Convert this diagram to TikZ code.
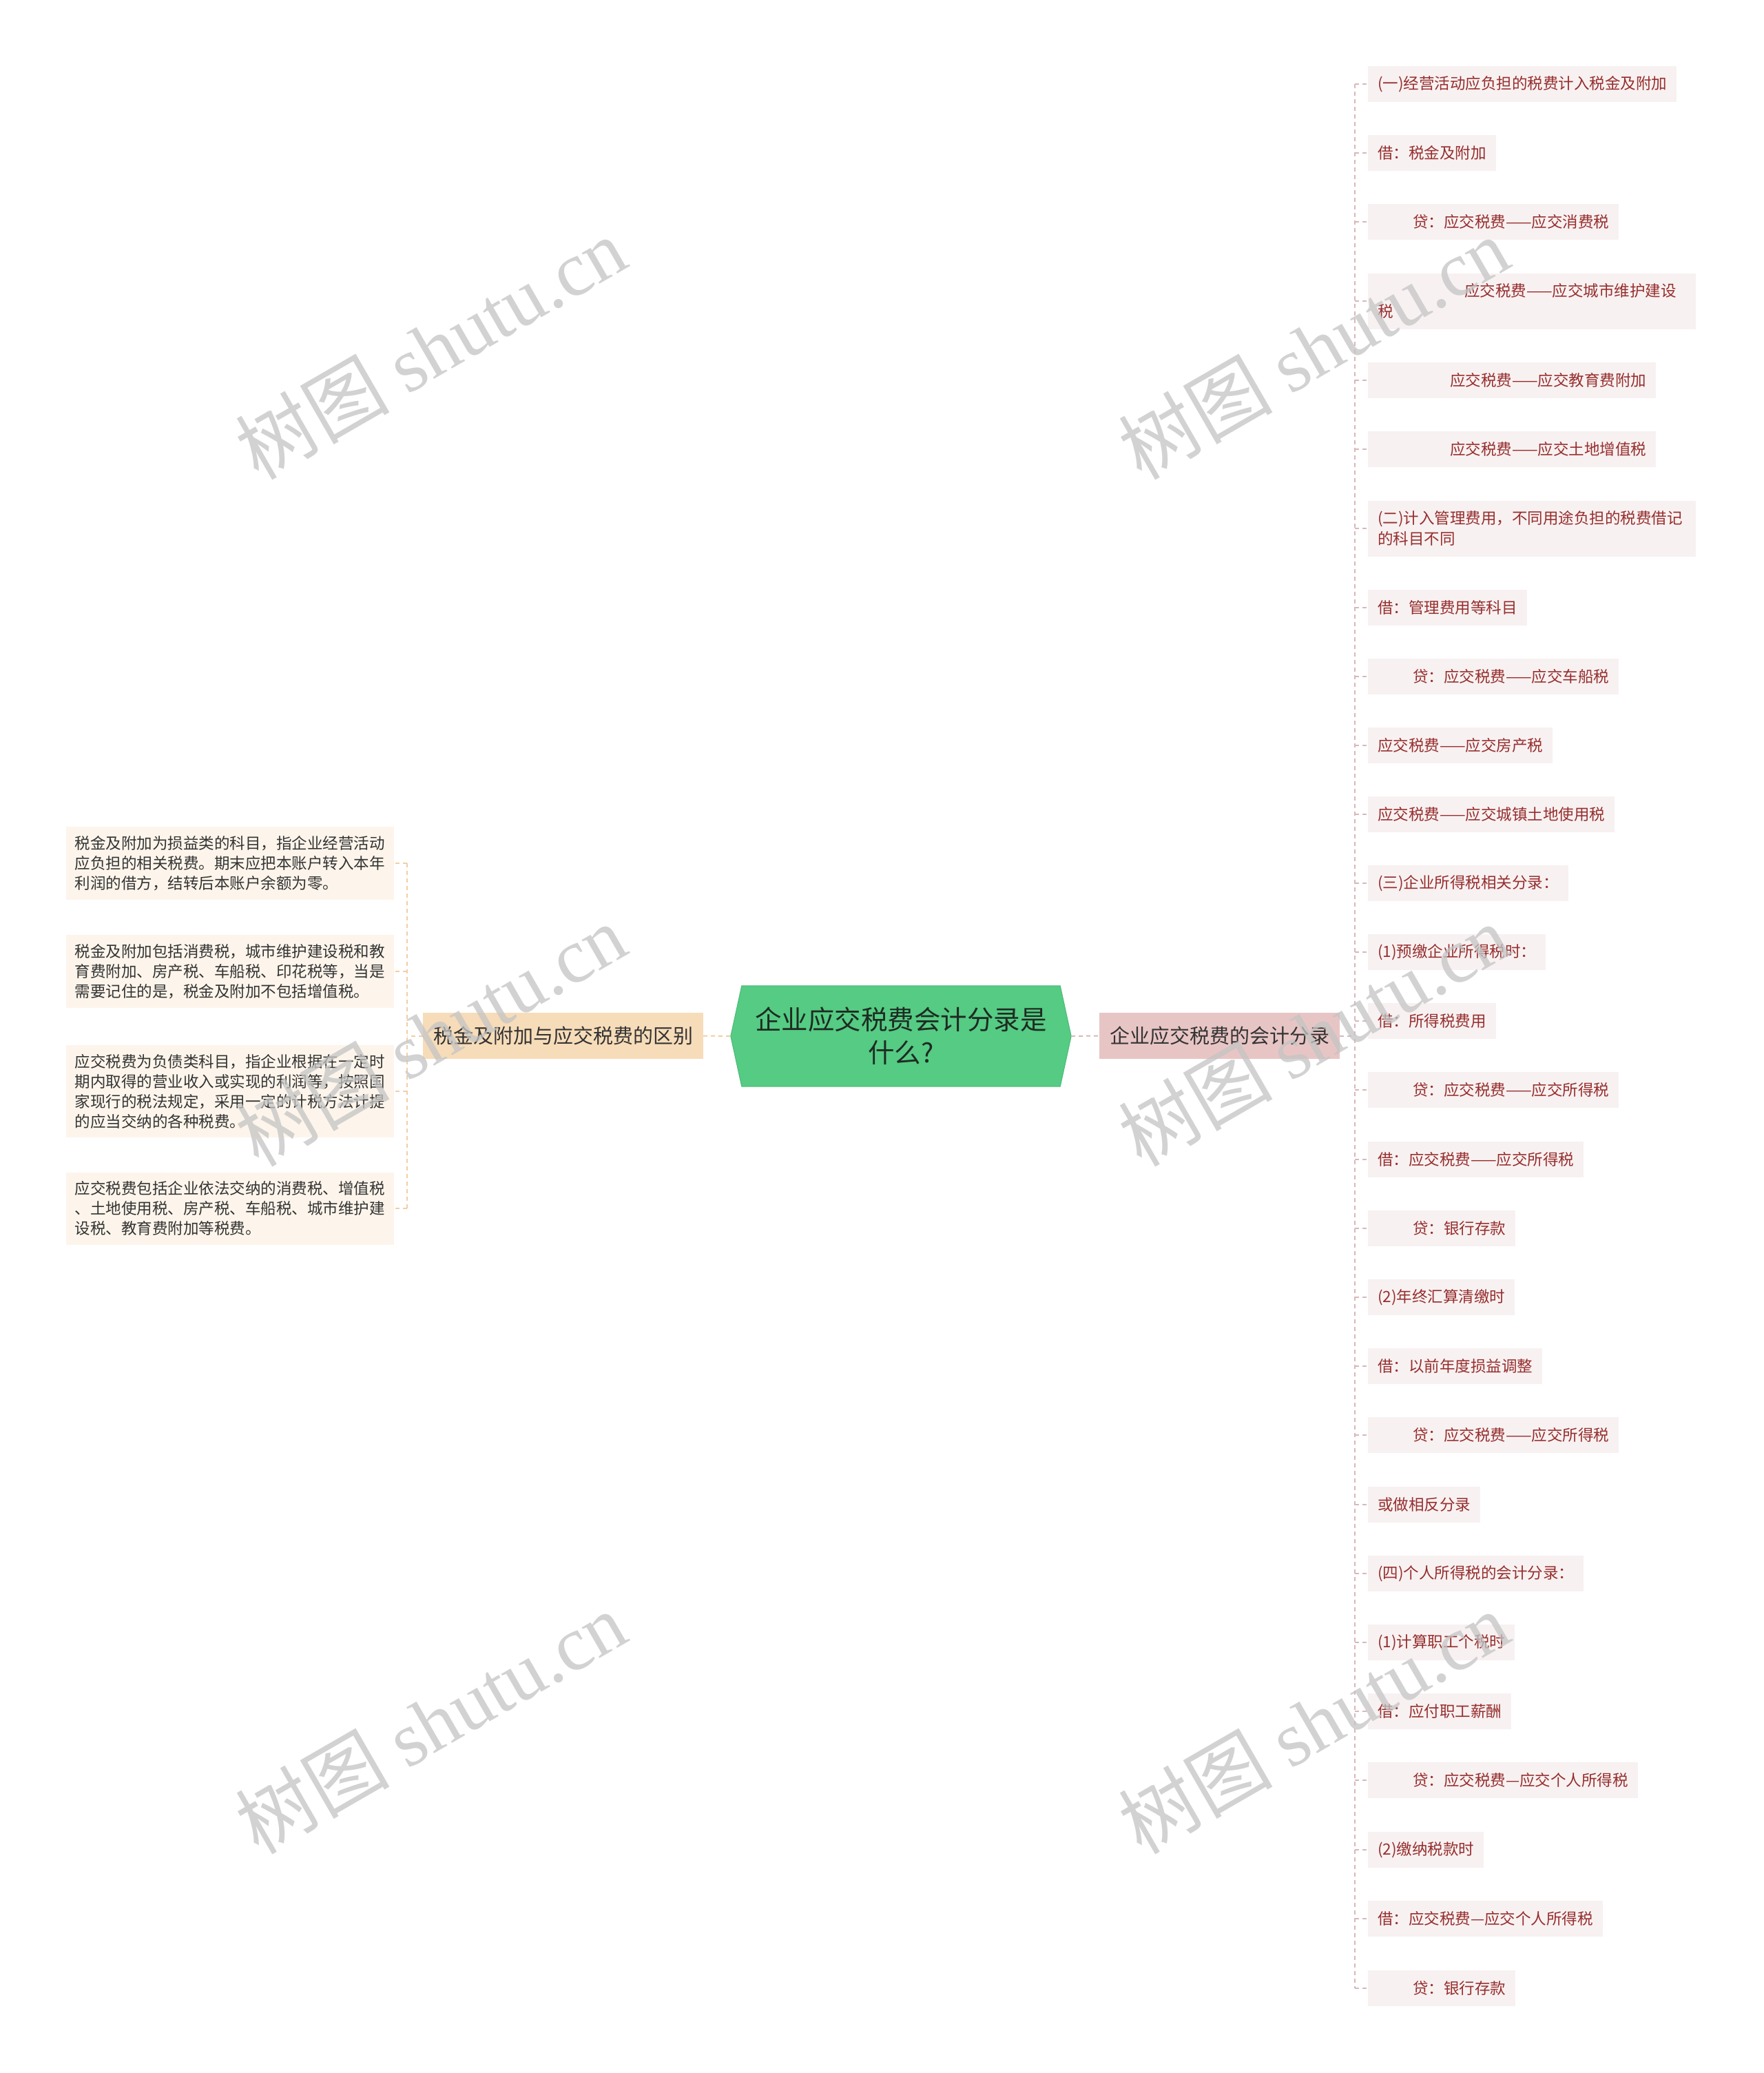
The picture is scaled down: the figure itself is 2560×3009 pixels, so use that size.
\documentclass[tikz,border=0pt]{standalone}
\usepackage{fontspec}
\setmainfont{Noto Sans CJK SC}
\newfontfamily\wmlatin{Liberation Serif}
\usetikzlibrary{backgrounds}
\definecolor{rtext}{HTML}{962E2E}
\definecolor{rfill}{HTML}{F8F1F1}
\definecolor{rline}{HTML}{D8B8B8}
\definecolor{lfill}{HTML}{FDF5EB}
\definecolor{lline}{HTML}{F0CFA6}
\definecolor{ltext}{HTML}{333333}
\definecolor{cgreen}{HTML}{55CB83}
\definecolor{cgreenedge}{HTML}{4DBB78}
\definecolor{ctext}{HTML}{1E2B22}
\definecolor{rmain}{HTML}{E8C5C5}
\definecolor{lmain}{HTML}{F7DCB9}
\definecolor{wm}{HTML}{C4C4C4}
\tikzset{
  rleaf/.style={anchor=west, fill=rfill, text=rtext, font=\fontsize{22.5}{30}\selectfont,
    inner xsep=14pt, inner ysep=0pt, minimum height=52pt, align=left},
  rleaftwo/.style={rleaf, text width=448pt, minimum height=81pt},
  lleaf/.style={anchor=east, fill=lfill, text=ltext, font=\fontsize{22.5}{29}\selectfont,
    inner xsep=13pt, inner ysep=13pt, text width=450pt, align=left},
  mainbox/.style={font=\fontsize{29}{34}\selectfont, text=ltext, inner xsep=15pt, inner ysep=0pt, minimum height=67pt},
  rconn/.style={draw=rline, line width=2pt, dash pattern=on 6pt off 5pt},
  lconn/.style={draw=lline, line width=2pt, dash pattern=on 6pt off 5pt},
  wmark/.style={text=wm, opacity=0.75, rotate=30, font=\fontsize{112}{112}\selectfont}
}
\begin{document}
\begin{tikzpicture}[x=1pt,y=-1pt]
\useasboundingbox (0,0) rectangle (2560,3009);

% center
\node[minimum width=494pt, minimum height=146pt, align=center, text=ctext,
  font=\fontsize{38.5}{48}\selectfont, inner sep=0pt] (c) at (1308,1504) {企业应交税费会计分录是\\什么?};
\begin{scope}[on background layer]
\fill[white] (0,0) rectangle (2560,3009);
\filldraw[fill=cgreen, draw=cgreenedge, line width=1pt] (c.west) -- ([xshift=16pt]c.north west) -- ([xshift=-16pt]c.north east) -- (c.east)
  -- ([xshift=-16pt]c.south east) -- ([xshift=16pt]c.south west) -- cycle;
\end{scope}

% main branches
\node[mainbox, fill=rmain] (rm) at (1770.5,1503.5) {企业应交税费的会计分录};
\node[mainbox, fill=lmain] (lm) at (817.5,1503.5) {税金及附加与应交税费的区别};

% right leaves
\node[rleaf] (r1) at (1986,122) {(一)经营活动应负担的税费计入税金及附加};
\node[rleaf] (r2) at (1986,222) {借：税金及附加};
\node[rleaf] (r3) at (1986,322) {\hspace*{51pt}贷：应交税费——应交消费税};
\node[rleaftwo] (r4) at (1986,437) {\hspace*{126pt}应交税费——应交城市维护建设\\税};
\node[rleaf] (r5) at (1986,552) {\hspace*{105pt}应交税费——应交教育费附加};
\node[rleaf] (r6) at (1986,652) {\hspace*{105pt}应交税费——应交土地增值税};
\node[rleaftwo] (r7) at (1986,767) {(二)计入管理费用，不同用途负担的税费借记\\的科目不同};
\node[rleaf] (r8) at (1986,882) {借：管理费用等科目};
\node[rleaf] (r9) at (1986,982) {\hspace*{51pt}贷：应交税费——应交车船税};
\node[rleaf] (r10) at (1986,1082) {应交税费——应交房产税};
\node[rleaf] (r11) at (1986,1182) {应交税费——应交城镇土地使用税};
\node[rleaf] (r12) at (1986,1282) {(三)企业所得税相关分录：};
\node[rleaf] (r13) at (1986,1382) {(1)预缴企业所得税时：};
\node[rleaf] (r14) at (1986,1482) {借：所得税费用};
\node[rleaf] (r15) at (1986,1582) {\hspace*{51pt}贷：应交税费——应交所得税};
\node[rleaf] (r16) at (1986,1683) {借：应交税费——应交所得税};
\node[rleaf] (r17) at (1986,1783) {\hspace*{51pt}贷：银行存款};
\node[rleaf] (r18) at (1986,1883) {(2)年终汇算清缴时};
\node[rleaf] (r19) at (1986,1983) {借：以前年度损益调整};
\node[rleaf] (r20) at (1986,2083) {\hspace*{51pt}贷：应交税费——应交所得税};
\node[rleaf] (r21) at (1986,2184) {或做相反分录};
\node[rleaf] (r22) at (1986,2284) {(四)个人所得税的会计分录：};
\node[rleaf] (r23) at (1986,2384) {(1)计算职工个税时};
\node[rleaf] (r24) at (1986,2484) {借：应付职工薪酬};
\node[rleaf] (r25) at (1986,2584) {\hspace*{51pt}贷：应交税费—应交个人所得税};
\node[rleaf] (r26) at (1986,2685) {(2)缴纳税款时};
\node[rleaf] (r27) at (1986,2785) {借：应交税费—应交个人所得税};
\node[rleaf] (r28) at (1986,2886) {\hspace*{51pt}贷：银行存款};

% left leaves
\node[lleaf] (l1) at (572,1253) {税金及附加为损益类的科目，指企业经营活动\\应负担的相关税费。期末应把本账户转入本年\\利润的借方，结转后本账户余额为零。};
\node[lleaf] (l2) at (572,1410) {税金及附加包括消费税，城市维护建设税和教\\育费附加、房产税、车船税、印花税等，当是\\需要记住的是，税金及附加不包括增值税。};
\node[lleaf] (l3) at (572,1584) {应交税费为负债类科目，指企业根据在一定时\\期内取得的营业收入或实现的利润等，按照国\\家现行的税法规定，采用一定的计税方法计提\\的应当交纳的各种税费。};
\node[lleaf] (l4) at (572,1754) {应交税费包括企业依法交纳的消费税、增值税\\、土地使用税、房产税、车船税、城市维护建\\设税、教育费附加等税费。};

% connectors
\draw[lconn] (lm.east) -- (c.west);
\draw[rconn] (c.east) -- (rm.west);

\coordinate (rs) at (1967,1503.5);
\draw[rconn] (rm.east) -- (rs);
\draw[rconn] (r1.west -| rs) -- (r28.west -| rs);
\foreach \i in {1,...,28} { \draw[rconn] (r\i.west -| rs) -- (r\i.west); }

\coordinate (ls) at (591,1503.5);
\draw[lconn] (lm.west) -- (ls);
\draw[lconn] (l1.east -| ls) -- (l4.east -| ls);
\foreach \i in {1,...,4} { \draw[lconn] (l\i.east -| ls) -- (l\i.east); }

% watermarks
\node[wmark] (w1) at (625,505) {树图 {\wmlatin shutu.cn}};
\node[wmark] (w2) at (1907,505) {树图 {\wmlatin shutu.cn}};
\node[wmark] (w3) at (625,1502) {树图 {\wmlatin shutu.cn}};
\node[wmark] (w4) at (1907,1502) {树图 {\wmlatin shutu.cn}};
\node[wmark] (w5) at (625,2500) {树图 {\wmlatin shutu.cn}};
\node[wmark] (w6) at (1907,2500) {树图 {\wmlatin shutu.cn}};
\end{tikzpicture}
\end{document}
